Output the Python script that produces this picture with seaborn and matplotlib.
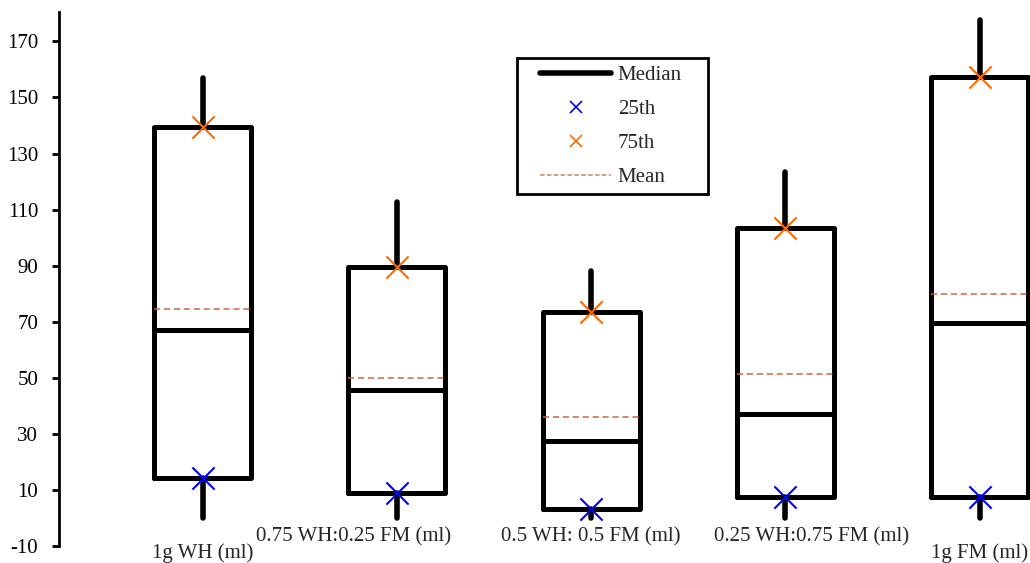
import matplotlib
matplotlib.use('Agg')
import seaborn as sns
import matplotlib.pyplot as plt
from matplotlib.lines import Line2D
from matplotlib.legend_handler import HandlerLine2D
import pandas as pd

# data
categories = ["1g WH (ml)", "0.75 WH:0.25 FM (ml)", "0.5 WH: 0.5 FM (ml)",
              "0.25 WH:0.75 FM (ml)", "1g FM (ml)"]
q1 = [14.3, 9.0, 3.1, 7.5, 7.5]
median = [67.0, 45.6, 27.5, 37.0, 69.5]
q3 = [139.5, 89.4, 73.3, 103.3, 157.3]
mean = [74.4, 49.9, 36.1, 51.2, 79.9]
whisker_lo = [0, 0, 0, 0, 0]
whisker_hi = [157.0, 112.6, 88.2, 123.3, 177.5]
yticks = list(range(-10, 171, 20))

# label offsets (points) to mimic the staggered category labels
label_dx = [0, -31, 0, 19, 0]
label_dy = [-5, 6.5, 6.5, 6.5, -5]

sns.set_theme(style='white')
plt.rcParams['font.family'] = ['Liberation Serif', 'DejaVu Serif']
plt.rcParams['font.size'] = 15
plt.rcParams['axes.unicode_minus'] = False

fig = plt.figure(figsize=(10.3, 5.63), dpi=100)
ax = fig.add_axes([0.0573, 0.0302, 0.9427, 0.9485])

df = pd.DataFrame({'cat': categories, 'q1': q1, 'med': median, 'q3': q3,
                   'mean': mean, 'lo': whisker_lo, 'hi': whisker_hi})
df['pos'] = range(len(df))

stats = [dict(label=r.cat, q1=r.q1, med=r.med, q3=r.q3, mean=r.mean,
              whislo=r.lo, whishi=r.hi, fliers=[]) for r in df.itertuples()]

ax.bxp(stats, positions=df['pos'], widths=0.5, showmeans=True, meanline=True,
       showcaps=False, showfliers=False,
       boxprops=dict(color='black', linewidth=3.6, solid_joinstyle='round'),
       whiskerprops=dict(color='black', linewidth=4, solid_capstyle='round'),
       medianprops=dict(color='black', linewidth=3.6),
       meanprops=dict(color='#C8683E', linewidth=1.1, linestyle=(0, (4, 2.5))))

sns.scatterplot(x=df['pos'], y=df['q1'], marker='x', color='#0000FF', s=256,
                linewidth=1.5, zorder=5, ax=ax)
sns.scatterplot(x=df['pos'], y=df['q3'], marker='x', color='#FF6A00', s=256,
                linewidth=1.5, zorder=5, ax=ax)

ax.set_xlim(-0.74, 4.26)
ax.set_ylim(-10, 180.5)
ax.set_yticks(yticks)
ax.set_xticks([])
ax.set_xlabel('')
ax.set_ylabel('')
for s in ['top', 'right', 'bottom']:
    ax.spines[s].set_visible(False)
ax.spines['left'].set_color('black')
ax.spines['left'].set_linewidth(2)
ax.tick_params(axis='y', left=True, length=5, width=2, color='black',
               labelsize=15, labelcolor='black', pad=10)

for i, lab in enumerate(categories):
    ax.annotate(lab, xy=(i, 0), xycoords=('data', 'axes fraction'),
                xytext=(label_dx[i], label_dy[i]), textcoords='offset points',
                ha='center', va='center', fontsize=15, annotation_clip=False)

handles = [
    Line2D([], [], color='black', linewidth=4),
    Line2D([], [], color='#0000FF', marker='x', linestyle='none', markersize=8, markeredgewidth=1.2),
    Line2D([], [], color='#FF6A00', marker='x', linestyle='none', markersize=8, markeredgewidth=1.2),
    Line2D([], [], color='#C8866A', linewidth=1.1, linestyle=(0, (3, 1.5))),
]
hmap = {h: HandlerLine2D(xpad=0.75) for h in handles}
leg = ax.legend(handles, ['Median', '25th', '75th', 'Mean'], loc='upper left',
                bbox_to_anchor=(0.4717, 0.9138, 0.1967, 0), mode='expand',
                borderaxespad=0, handler_map=hmap,
                fancybox=False, framealpha=1, edgecolor='black', fontsize=15,
                handlelength=4.17, labelspacing=0.69, borderpad=0.36,
                handletextpad=0.3)
leg.get_frame().set_linewidth(2)

fig.savefig('out.png', dpi=100)
